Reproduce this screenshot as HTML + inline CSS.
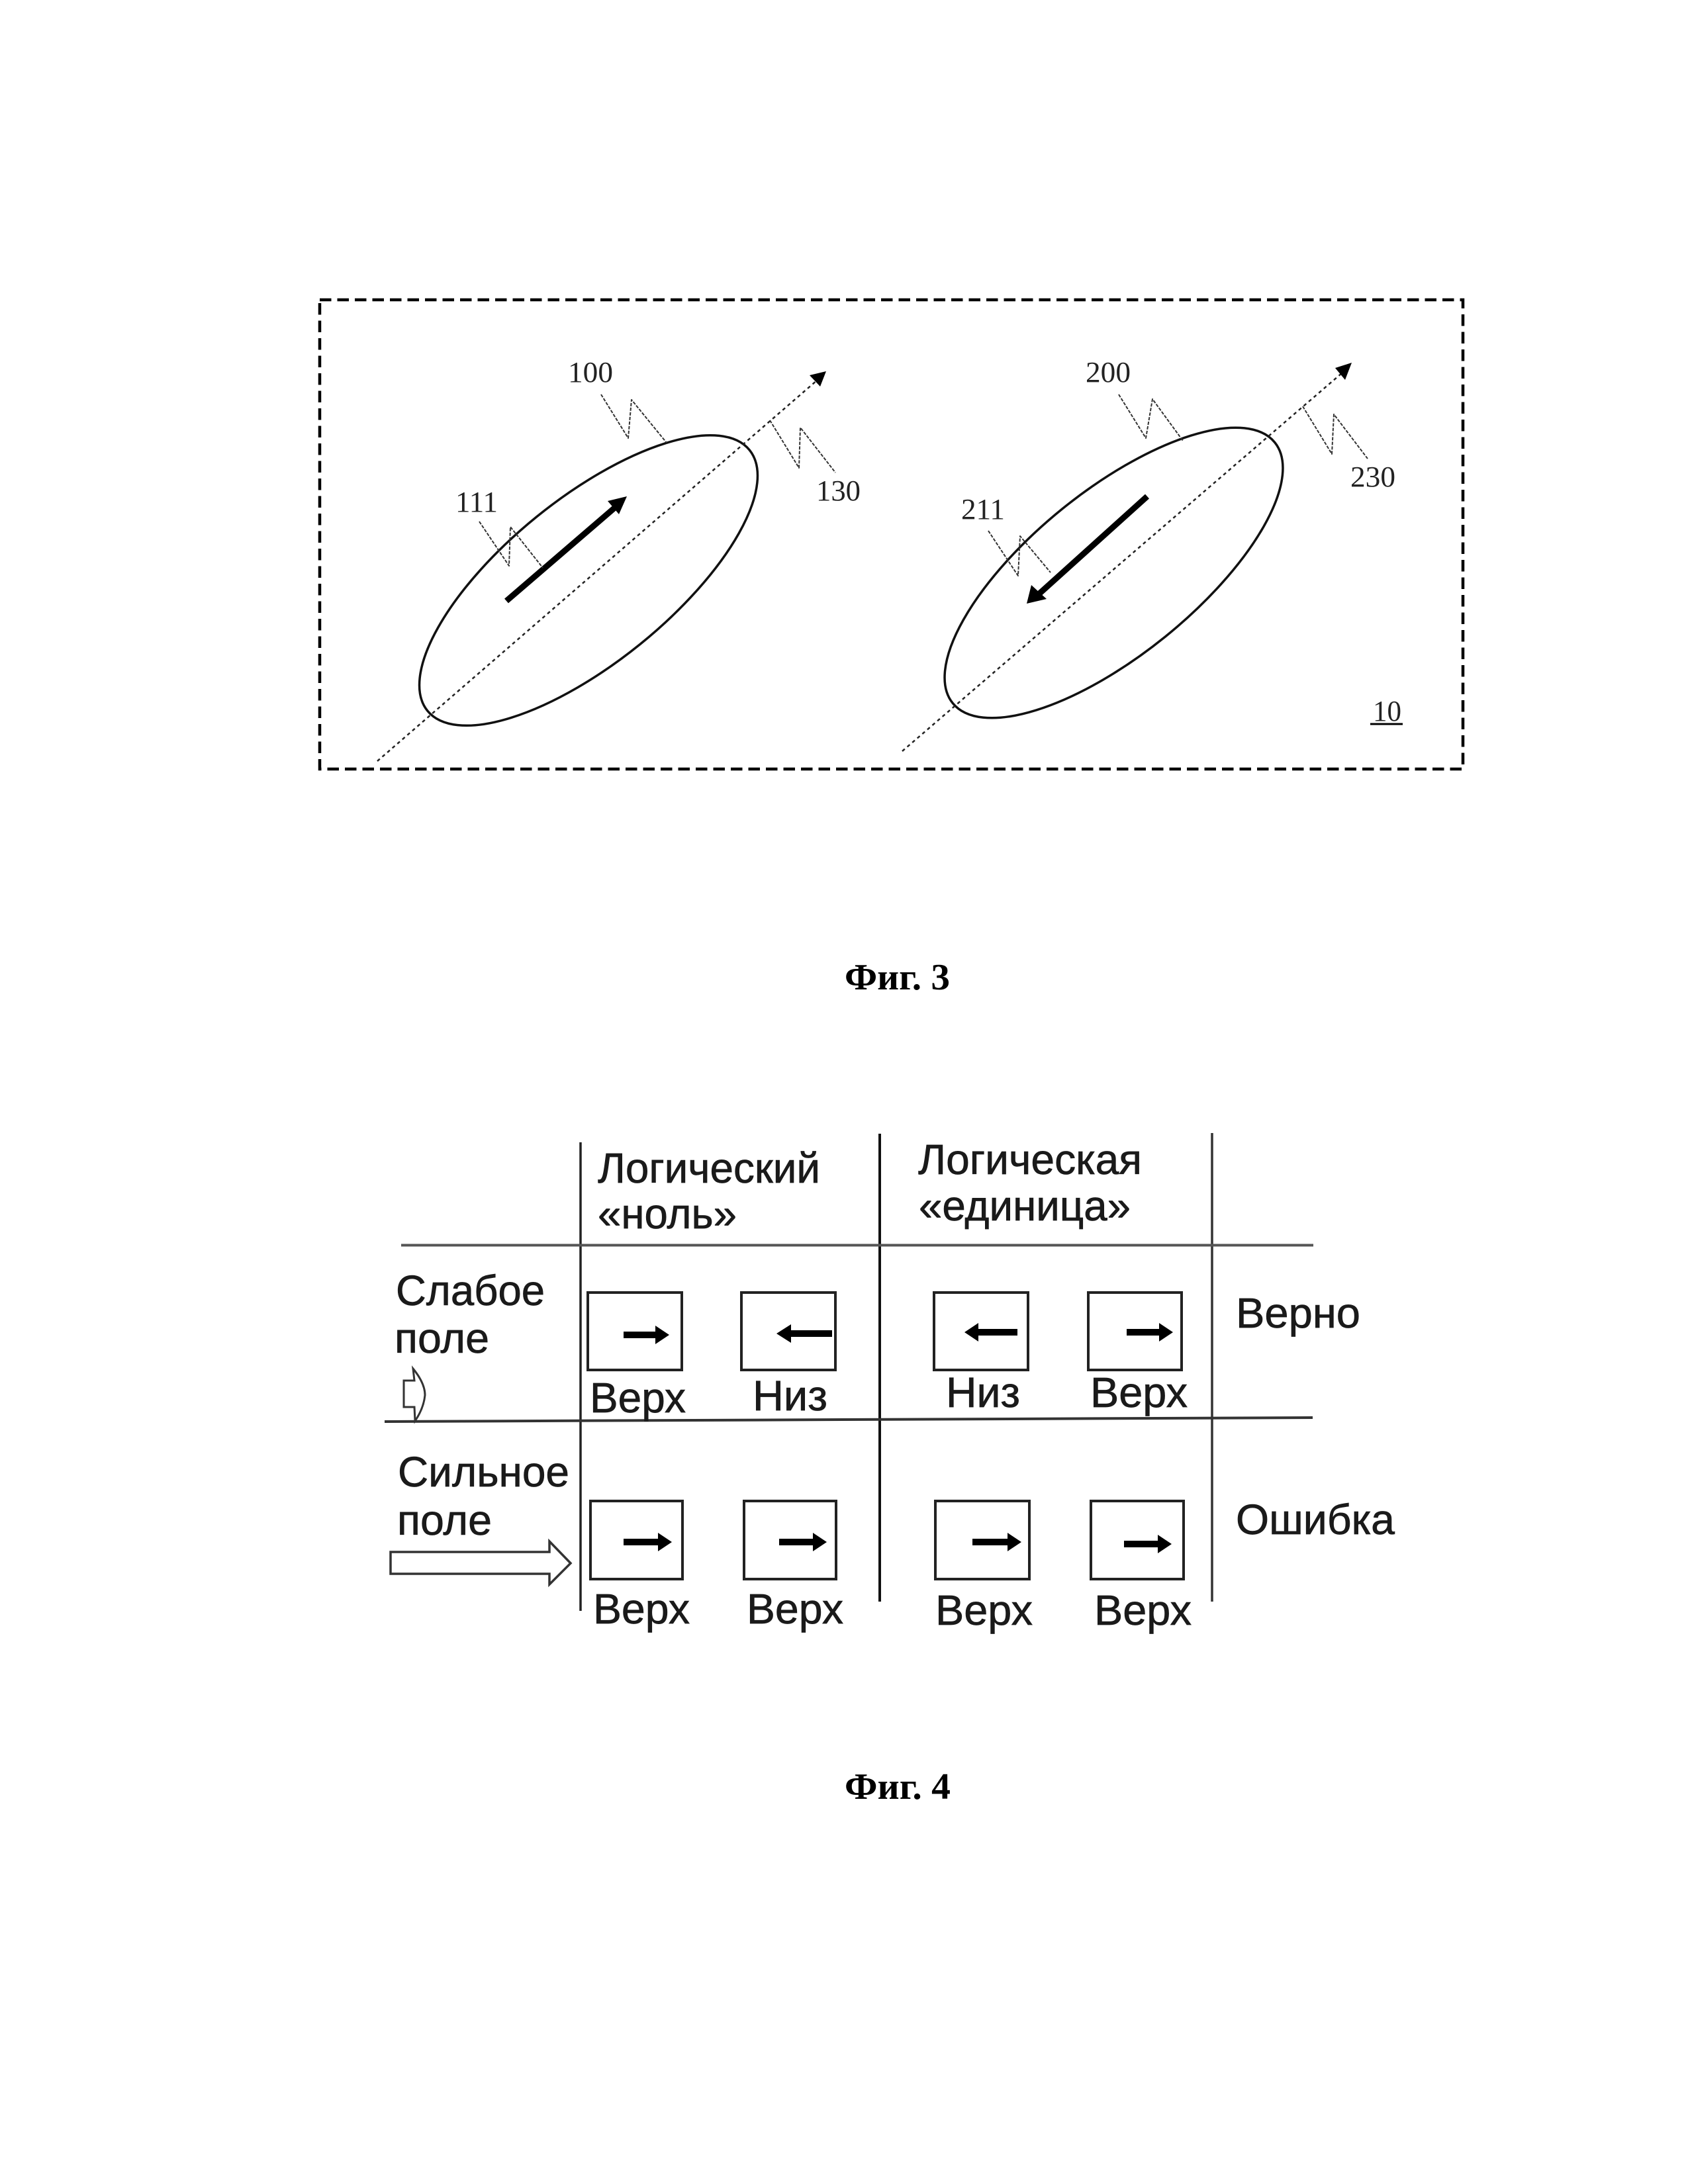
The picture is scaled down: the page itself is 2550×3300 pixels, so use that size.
<!DOCTYPE html>
<html lang="ru">
<head>
<meta charset="utf-8">
<title>Фиг. 3, Фиг. 4</title>
<style>
html,body{margin:0;padding:0;background:#fff;width:2550px;height:3300px;overflow:hidden}
svg{display:block}
.n{font-family:"Liberation Serif",serif;font-size:44px;fill:#222}
.s{font-family:"Liberation Sans",sans-serif;font-size:64px;fill:#1a1a1a;stroke:#1a1a1a;stroke-width:.7}
.c{font-family:"Liberation Serif",serif;font-weight:bold;font-size:56px;fill:#000}
.l{fill:none;stroke:#333;stroke-width:2;stroke-dasharray:5 2;stroke-linejoin:round}
.ax{fill:none;stroke:#222;stroke-width:2.5;stroke-dasharray:5 5}
.e{fill:none;stroke:#111;stroke-width:3.5}
.b{fill:none;stroke:#222;stroke-width:4}
</style>
</head>
<body>
<svg xmlns="http://www.w3.org/2000/svg" width="2550" height="3300" viewBox="0 0 2550 3300">
<rect width="2550" height="3300" fill="#fff"/>

<!-- Fig 3 -->
<rect x="483" y="453" width="1727" height="709" fill="none" stroke="#000" stroke-width="4.5" stroke-dasharray="17.5 9"/>

<ellipse class="e" cx="889" cy="877" rx="313" ry="124" transform="rotate(-39 889 877)"/>
<ellipse class="e" cx="1682.5" cy="865.5" rx="313" ry="124" transform="rotate(-39 1682.5 865.5)"/>

<line class="ax" x1="570" y1="1150" x2="1235" y2="574"/>
<polygon points="1248,561 1223,567 1239,584" fill="#000"/>
<line class="ax" x1="1363" y1="1135" x2="2028" y2="563"/>
<polygon points="2042,548 2017,556 2032,574" fill="#000"/>

<line x1="765" y1="908" x2="930" y2="766" stroke="#000" stroke-width="9"/>
<polygon points="947,750 918,757 935,777" fill="#000"/>
<line x1="1733" y1="750" x2="1570" y2="897" stroke="#000" stroke-width="9"/>
<polygon points="1551,912 1558,884 1581,905" fill="#000"/>

<polyline class="l" points="908,596 949,662 954,604 1007,669"/>
<polyline class="l" points="1163,635 1207,707 1209,646 1262,714"/>
<polyline class="l" points="724,788 769,855 771,796 820,858"/>
<polyline class="l" points="1690,596 1731,662 1741,603 1787,666"/>
<polyline class="l" points="1968,614 2012,686 2015,626 2066,693"/>
<polyline class="l" points="1493,802 1538,870 1541,810 1587,865"/>

<text class="n" x="858" y="577" textLength="68" lengthAdjust="spacingAndGlyphs">100</text>
<text class="n" x="1233" y="756" textLength="67" lengthAdjust="spacingAndGlyphs">130</text>
<text class="n" x="688" y="773" textLength="64" lengthAdjust="spacingAndGlyphs">111</text>
<text class="n" x="1640" y="577" textLength="68" lengthAdjust="spacingAndGlyphs">200</text>
<text class="n" x="2040" y="735" textLength="68" lengthAdjust="spacingAndGlyphs">230</text>
<text class="n" x="1452" y="784" textLength="66" lengthAdjust="spacingAndGlyphs">211</text>
<text class="n" x="2074" y="1089" textLength="43" lengthAdjust="spacingAndGlyphs">10</text>
<line x1="2070" y1="1094" x2="2119" y2="1094" stroke="#000" stroke-width="3"/>

<text class="c" x="1276" y="1495" textLength="159" lengthAdjust="spacingAndGlyphs">Фиг. 3</text>

<!-- Fig 4 grid -->
<line x1="877" y1="1726" x2="877" y2="2434" stroke="#222" stroke-width="3.5"/>
<line x1="1329" y1="1713" x2="1329" y2="2420" stroke="#111" stroke-width="4"/>
<line x1="1831" y1="1712" x2="1831" y2="2420" stroke="#333" stroke-width="3.5"/>
<line x1="606" y1="1881.5" x2="1984" y2="1881.5" stroke="#555" stroke-width="4"/>
<line x1="581" y1="2148" x2="1983" y2="2142" stroke="#333" stroke-width="4"/>

<!-- boxes -->
<rect class="b" x="888" y="1953" width="142" height="117"/>
<rect class="b" x="1120" y="1953" width="142" height="117"/>
<rect class="b" x="1411" y="1953" width="142" height="117"/>
<rect class="b" x="1644" y="1953" width="141" height="117"/>
<rect class="b" x="892" y="2268" width="139" height="118"/>
<rect class="b" x="1124" y="2268" width="139" height="118"/>
<rect class="b" x="1413" y="2268" width="142" height="118"/>
<rect class="b" x="1648" y="2268" width="140" height="118"/>

<!-- small arrows -->
<g fill="#000">
<polygon points="942,2012 990,2012 990,2003 1011,2017 990,2031 990,2022 942,2022"/>
<polygon points="1257,2010 1195,2010 1195,2001 1173,2015 1195,2029 1195,2020 1257,2020"/>
<polygon points="1537,2008 1478,2008 1478,1999 1457,2013 1478,2027 1478,2018 1537,2018"/>
<polygon points="1702,2008 1751,2008 1751,1999 1772,2013 1751,2027 1751,2018 1702,2018"/>
<polygon points="942,2325 994,2325 994,2316 1015,2330 994,2344 994,2335 942,2335"/>
<polygon points="1177,2325 1228,2325 1228,2316 1249,2330 1228,2344 1228,2335 1177,2335"/>
<polygon points="1469,2325 1522,2325 1522,2316 1543,2330 1522,2344 1522,2335 1469,2335"/>
<polygon points="1698,2328 1749,2328 1749,2319 1770,2333 1749,2347 1749,2338 1698,2338"/>
</g>

<!-- hollow arrows -->
<path d="M610,2086 H626 L624,2068 Q642,2090 642,2108 Q640,2128 627,2147 L626,2126 H610 Z" fill="none" stroke="#333" stroke-width="3"/>
<polygon points="590,2345 830,2345 830,2329 862,2362 830,2394 830,2378 590,2378" fill="#fff" stroke="#333" stroke-width="3.5"/>

<!-- Fig 4 text -->
<text class="s" x="903" y="1787" textLength="336" lengthAdjust="spacingAndGlyphs">Логический</text>
<text class="s" x="903" y="1856" textLength="210" lengthAdjust="spacingAndGlyphs">«ноль»</text>
<text class="s" x="1387" y="1774" textLength="338" lengthAdjust="spacingAndGlyphs">Логическая</text>
<text class="s" x="1388" y="1844" textLength="320" lengthAdjust="spacingAndGlyphs">«единица»</text>
<text class="s" x="598" y="1972" textLength="225" lengthAdjust="spacingAndGlyphs">Слабое</text>
<text class="s" x="596" y="2044" textLength="143" lengthAdjust="spacingAndGlyphs">поле</text>
<text class="s" x="601" y="2246" textLength="259" lengthAdjust="spacingAndGlyphs">Сильное</text>
<text class="s" x="600" y="2319" textLength="143" lengthAdjust="spacingAndGlyphs">поле</text>
<text class="s" x="891" y="2134" textLength="145" lengthAdjust="spacingAndGlyphs">Верх</text>
<text class="s" x="1137" y="2131" textLength="113" lengthAdjust="spacingAndGlyphs">Низ</text>
<text class="s" x="1429" y="2126" textLength="112" lengthAdjust="spacingAndGlyphs">Низ</text>
<text class="s" x="1647" y="2126" textLength="147" lengthAdjust="spacingAndGlyphs">Верх</text>
<text class="s" x="1867" y="2006" textLength="188" lengthAdjust="spacingAndGlyphs">Верно</text>
<text class="s" x="1867" y="2318" textLength="240" lengthAdjust="spacingAndGlyphs">Ошибка</text>
<text class="s" x="896" y="2453" textLength="146" lengthAdjust="spacingAndGlyphs">Верх</text>
<text class="s" x="1128" y="2453" textLength="146" lengthAdjust="spacingAndGlyphs">Верх</text>
<text class="s" x="1413" y="2455" textLength="147" lengthAdjust="spacingAndGlyphs">Верх</text>
<text class="s" x="1653" y="2455" textLength="147" lengthAdjust="spacingAndGlyphs">Верх</text>

<text class="c" x="1276" y="2718" textLength="160" lengthAdjust="spacingAndGlyphs">Фиг. 4</text>
</svg>
</body>
</html>
